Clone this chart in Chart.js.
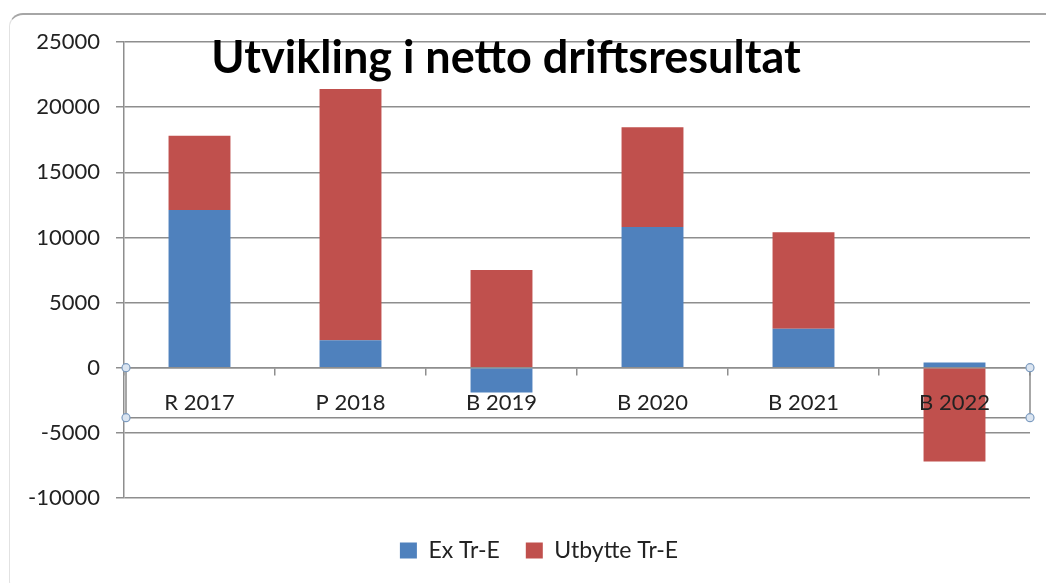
<!DOCTYPE html>
<html>
<head>
<meta charset="utf-8">
<script src="https://cdn.jsdelivr.net/npm/chart.js@4.4.0/dist/chart.umd.min.js"></script>
<style>
    html, body { margin: 0; padding: 0; background: #fff; }
    #frame {
        position: absolute; left: 9px; top: 13px; width: 1100px; height: 580px;
        border-top: 2px solid #a6a6a6; border-left: 1px solid #e2e2e2;
        border-radius: 14px 0 0 14px;
    }
    #wrap { position: absolute; left: 0; top: 0; width: 1046px; height: 583px; }
</style>
</head>
<body>
<div id="frame"></div>
<div id="wrap"><canvas id="chart" width="1046" height="583"></canvas></div>
<script>
const categories = ['R 2017', 'P 2018', 'B 2019', 'B 2020', 'B 2021', 'B 2022'];
const ex_tr_e = [12100, 2100, -1900, 10800, 3000, 400];
const utbytte_tr_e = [5700, 19300, 7500, 7650, 7400, -7200];
const y_ticks = [-10000, -5000, 0, 5000, 10000, 15000, 20000, 25000];

const grid_color = '#8e8e8e';
const text_color = '#222222';
const font_family = 'Lato, "Open Sans", sans-serif';

// title sits inside the plot area, like the original
const title_plugin = {
    id: 'inner_title',
    afterDraw(chart) {
        const ctx = chart.ctx;
        ctx.save();
        ctx.font = `bold 45px ${font_family}`;
        ctx.fillStyle = '#000';
        ctx.textAlign = 'center';
        ctx.textBaseline = 'alphabetic';
        ctx.fillText('Utvikling i netto driftsresultat', 506, 73);
        ctx.restore();
    }
};

// legend in the original is a bit right of the canvas centre
const legend_shift = {
    id: 'legend_shift',
    afterLayout(chart) {
        chart.legend.left += 24;
        chart.legend.right += 24;
    }
};

// the selected category axis box with its handles
const selection_plugin = {
    id: 'axis_selection',
    beforeDatasetsDraw(chart) {
        const ctx = chart.ctx;
        const area = chart.chartArea;
        const top = chart.scales.y.getPixelForValue(0);
        const bottom = top + 50;
        const left = area.left + 2;
        const right = area.right;
        ctx.save();
        ctx.strokeStyle = '#8a8a8a';
        ctx.lineWidth = 1.5;
        ctx.beginPath();
        ctx.moveTo(left, top);
        ctx.lineTo(left, bottom);
        ctx.lineTo(right, bottom);
        ctx.lineTo(right, top);
        ctx.stroke();
        for (const [hx, hy] of [[left, top], [left, bottom], [right, top], [right, bottom]]) {
            ctx.beginPath();
            ctx.arc(hx, hy, 4, 0, Math.PI * 2);
            ctx.fillStyle = '#dbe5f1';
            ctx.fill();
            ctx.strokeStyle = '#7d9cc0';
            ctx.lineWidth = 1.2;
            ctx.stroke();
        }
        ctx.restore();
    }
};

new Chart(document.getElementById('chart'), {
    type: 'bar',
    data: {
        labels: categories,
        datasets: [
            {
                label: 'Ex Tr-E',
                data: ex_tr_e,
                backgroundColor: '#4f81bd',
                borderWidth: 0,
            },
            {
                label: 'Utbytte Tr-E',
                data: utbytte_tr_e,
                backgroundColor: '#c0504d',
                borderWidth: 0,
            }
        ]
    },
    options: {
        responsive: false,
        animation: false,
        layout: {
            padding: { left: 0, right: 16, top: 42, bottom: 11 }
        },
        datasets: {
            bar: { categoryPercentage: 1, barPercentage: 0.41 }
        },
        scales: {
            x: {
                stacked: true,
                position: { y: 0 },
                grid: {
                    display: true,
                    drawOnChartArea: false,
                    drawTicks: true,
                    tickLength: 7,
                    offset: true,
                    color: grid_color,
                    lineWidth: 1.5,
                },
                border: { display: true, color: grid_color, width: 1.5 },
                ticks: {
                    z: 1,
                    padding: 15,
                    color: text_color,
                    font: { family: font_family, size: 22 },
                    maxRotation: 0,
                }
            },
            x_space: {
                type: 'category',
                position: 'bottom',
                grid: { display: false },
                border: { display: false },
                ticks: { display: false },
                afterFit(scale) { scale.height = 15; }
            },
            y: {
                stacked: true,
                min: y_ticks[0],
                max: y_ticks[y_ticks.length - 1],
                afterFit(scale) { scale.width = 124; },
                afterBuildTicks(scale) { scale.ticks = y_ticks.map(v => ({ value: v })); },
                grid: {
                    color: grid_color,
                    lineWidth: 1.5,
                    tickLength: 8,
                },
                border: { display: true, color: grid_color, width: 1.5 },
                ticks: {
                    padding: 16,
                    color: text_color,
                    font: { family: font_family, size: 22 },
                    callback: v => String(v),
                }
            }
        },
        plugins: {
            legend: {
                position: 'bottom',
                labels: {
                    boxWidth: 17,
                    boxHeight: 16,
                    padding: 26,
                    color: text_color,
                    font: { family: font_family, size: 23 },
                }
            },
            title: { display: false },
            tooltip: { enabled: false }
        }
    },
    plugins: [selection_plugin, legend_shift, title_plugin]
});
</script>
</body>
</html>
